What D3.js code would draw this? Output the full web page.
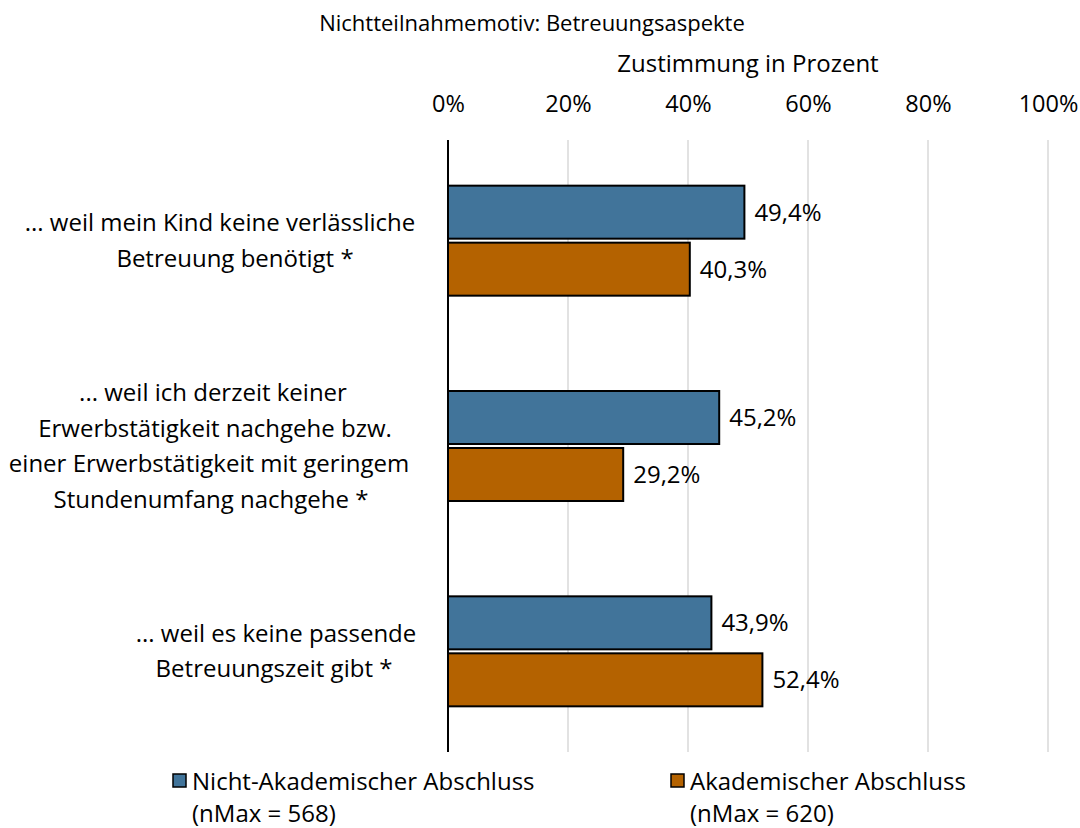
<!DOCTYPE html>
<html><head><meta charset="utf-8">
<script src="https://cdn.jsdelivr.net/npm/d3@7"></script>
<style>body{margin:0;background:#fff}svg{display:block}text{font-family:"Open Sans",sans-serif;fill:#000}</style>
</head><body>
<svg id="c" width="1080" height="828"></svg>
<script>
const categories = [
  ["... weil mein Kind keine verlässliche", "Betreuung benötigt *"],
  ["... weil ich derzeit keiner", "Erwerbstätigkeit nachgehe bzw.", "einer Erwerbstätigkeit mit geringem", "Stundenumfang nachgehe *"],
  ["... weil es keine passende", "Betreuungszeit gibt *"]
];
const seriesNames = ["Nicht-Akademischer Abschluss", "Akademischer Abschluss"];
const seriesN = ["(nMax = 568)", "(nMax = 620)"];
const nichtAkademisch = [49.4, 45.2, 43.9];
const akademisch = [40.3, 29.2, 52.4];
const tickValues = [0, 20, 40, 60, 80, 100];
const colors = ["#41749A", "#B46200"];
const title = "Nichtteilnahmemotiv: Betreuungsaspekte";
const axisTitle = "Zustimmung in Prozent";

// layout: horizontal centre of each wrapped label line
const labelCenters = [[220, 235], [213, 215, 209, 211], [276, 274]];

const svg = d3.select("#c");
const x = d3.scaleLinear().domain([0, 100]).range([448, 1048]);
const y = d3.scaleBand().domain(d3.range(categories.length)).range([138, 754]);
const inner = d3.scaleBand().domain([0, 1]).range([-55, 55]).paddingInner(0.07);
const series = [nichtAkademisch, akademisch];
const fs = 24;

svg.append("text").attr("x", 532).attr("y", 31).attr("text-anchor", "middle").attr("font-size", 22).text(title);
svg.append("text").attr("x", x(50)).attr("y", 72).attr("text-anchor", "middle").attr("font-size", fs).text(axisTitle);

// gridlines
svg.append("g").selectAll("line").data(tickValues.filter(d => d > 0)).join("line")
  .attr("x1", d => x(d)).attr("x2", d => x(d)).attr("y1", 140).attr("y2", 752)
  .attr("stroke", "#d9d9d9").attr("stroke-width", 1.5);

// top axis labels
const ax = svg.append("g").attr("transform", "translate(0,112)")
  .call(d3.axisTop(x).tickValues(tickValues).tickFormat(d => d + "%").tickSize(0).tickPadding(0));
ax.select(".domain").remove();
ax.selectAll("text").attr("font-size", 23.5).attr("font-family", "Open Sans").attr("dy", 0).attr("fill", "#000");

// bars
series.forEach((vals, si) => {
  const g = svg.append("g");
  g.selectAll("rect").data(vals).join("rect")
    .attr("x", x(0)).attr("y", (d, i) => y(i) + y.bandwidth() / 2 + inner(si))
    .attr("width", d => x(d) - x(0)).attr("height", inner.bandwidth())
    .attr("fill", colors[si]).attr("stroke", "#000").attr("stroke-width", 2);
  g.selectAll("text").data(vals).join("text")
    .attr("x", d => x(d) + 10).attr("y", (d, i) => y(i) + y.bandwidth() / 2 + inner(si) + inner.bandwidth() / 2)
    .attr("dy", "0.35em").attr("font-size", fs)
    .text(d => d.toFixed(1).replace(".", ",") + "%");
});

// vertical axis line
svg.append("line").attr("x1", x(0)).attr("x2", x(0)).attr("y1", 140).attr("y2", 752)
  .attr("stroke", "#000").attr("stroke-width", 2);

// category labels
categories.forEach((lines, i) => {
  const cy = y(i) + y.bandwidth() / 2;
  const lh = 35.5;
  const t = svg.append("text").attr("text-anchor", "middle").attr("font-size", fs);
  lines.forEach((l, j) => {
    t.append("tspan").attr("x", labelCenters[i][j]).attr("y", cy + (j - (lines.length - 1) / 2) * lh).attr("dy", "0.35em").text(l);
  });
});

// legend
const legX = [172, 670];
seriesNames.forEach((n, i) => {
  svg.append("rect").attr("x", legX[i] + 1).attr("y", 774).attr("width", 13).attr("height", 13)
    .attr("fill", colors[i]).attr("stroke", "#000").attr("stroke-width", 1.5);
  svg.append("text").attr("x", legX[i] + 20).attr("y", 790).attr("font-size", fs).text(n);
  svg.append("text").attr("x", legX[i] + 20).attr("y", 822).attr("font-size", fs).text(seriesN[i]);
});
</script>
</body></html>
